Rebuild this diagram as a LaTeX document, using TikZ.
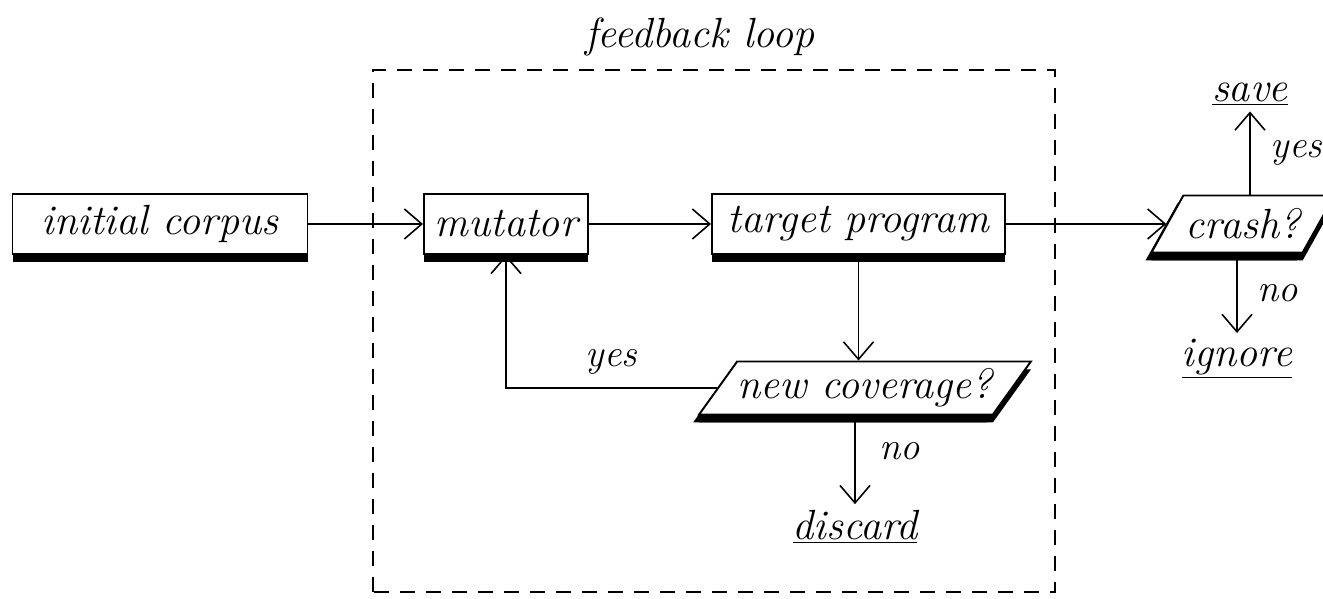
\documentclass[tikz,border=0pt]{standalone}
\usetikzlibrary{arrows.meta,shapes.geometric,shadows}
\begin{document}
\begin{tikzpicture}[
    >={Straight Barb[length=3.5mm,width=6mm]},
    every node/.style={font=\fontsize{24}{28}\selectfont\itshape},
    stage/.style={draw, line width=1.1pt, fill=white, minimum height=1.2cm,
        drop shadow={shadow xshift=0pt, shadow yshift=-0.16cm, opacity=1, fill=black}},
    decision/.style={stage, trapezium, trapezium stretches body=true, inner xsep=0pt,
        trapezium left angle=53, trapezium right angle=127,
        drop shadow={shadow xshift=-0.12cm, shadow yshift=-0.16cm, opacity=1, fill=black}},
    flow/.style={->, line width=0.9pt},
    answer/.style={font=\fontsize{22}{26}\selectfont\itshape},
]
    \useasboundingbox (0,0) rectangle (26.46,11.98);

    \draw[line width=1.1pt, dash pattern=on 0.3cm off 0.22cm] (7.46,0.14) rectangle (21.1,10.58);
    \node (loop) at (14.0,11.24) {feedback loop};

    \node[stage, minimum width=5.9cm] (corpus) at (3.2,7.5) {initial corpus};
    \node[stage, minimum width=3.28cm] (mutator) at (10.12,7.5) {mutator};
    \node[stage, minimum width=5.86cm] (target) at (17.17,7.5) {target program};
    \node[decision, minimum width=6.48cm, minimum height=1.06cm] (coverage) at (17.3,4.22) {new coverage?};
    \node[decision, minimum width=3.66cm, minimum height=1.14cm] (crash) at (24.86,7.5) {crash?};

    \node (discard) at (17.1,1.44) {\underline{discard}};
    \node (save) at (25.0,10.1) {\underline{save}};
    \node (ignore) at (24.74,4.8) {\underline{ignore}};

    \draw[flow] (corpus) -- (mutator);
    \draw[flow] (mutator) -- (target);
    \draw[flow] (target) -- (crash);
    \draw[flow] (target.south) -- (target.south |- coverage.north);
    \draw[flow] (coverage.west) -| node[answer, above=4pt, pos=0.25] {yes} (mutator.south);
    \draw[flow] (coverage.south -| discard) -- node[answer, right=10pt, pos=0.4] {no} (discard.north);
    \draw[flow] (crash.north -| save) -- node[answer, right=8pt] {yes} (save.south);
    \draw[flow] (crash.south -| ignore) -- node[answer, right=8pt] {no} (ignore.north);
\end{tikzpicture}
\end{document}
